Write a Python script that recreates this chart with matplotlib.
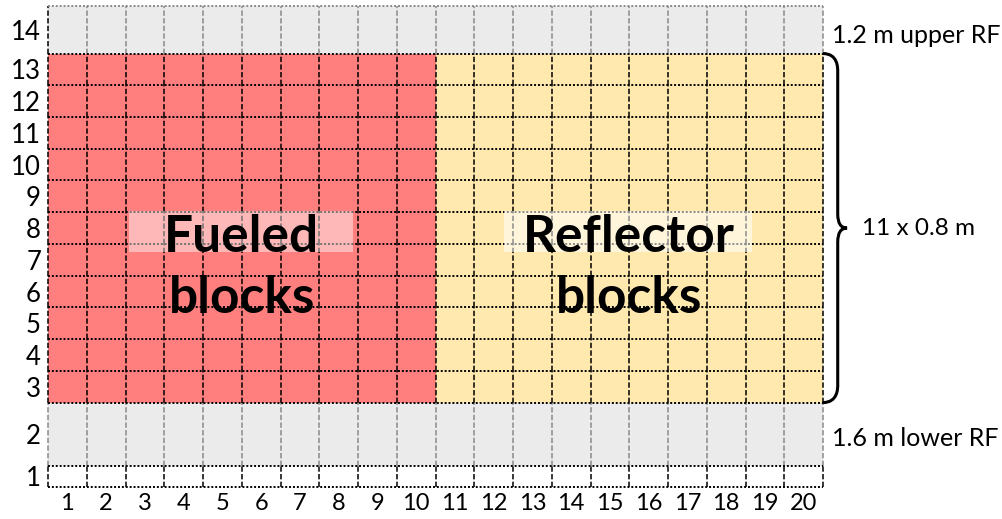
import numpy as np
import matplotlib
matplotlib.use('Agg')
import matplotlib.pyplot as plt
from matplotlib.path import Path
from matplotlib.patches import PathPatch, Rectangle

plt.rcParams['font.family'] = ['Lato', 'DejaVu Sans']

# grid definition
columns = list(range(1, 21))
row_labels = list(range(1, 15))
row_heights = [0.53, 1.6] + [0.8] * 11 + [1.2]   # metres
n_fuel_cols = 10
row_kind = ['blank', 'rf'] + ['core'] * 11 + ['rf']

fuel_color = '#FF7F7F'
refl_color = '#FFE9AF'
rf_color = '#EBEBEB'

side_notes = ['1.2 m upper RF', '11 x 0.8 m', '1.6 m lower RF']

bottoms = np.concatenate([[0], np.cumsum(row_heights)[:-1]])
tops = bottoms + np.array(row_heights)
total_h = tops[-1]

fig = plt.figure(figsize=(10.02, 5.19), dpi=100)
ax = fig.add_axes([48 / 1002, 32 / 519, 775 / 1002, 481 / 519])
ax.set_xlim(0, len(columns))
ax.set_ylim(0, total_h)

xc = np.array(columns) - 0.5
for b, h, kind in zip(bottoms, row_heights, row_kind):
    if kind == 'core':
        cols = [fuel_color if c <= n_fuel_cols else refl_color for c in columns]
    elif kind == 'rf':
        cols = [rf_color] * len(columns)
    else:
        cols = ['white'] * len(columns)
    ax.bar(xc, h, width=1.0, bottom=b, color=cols, linewidth=0, zorder=1)

# vertical dashed lines
dash = (0, (3.5, 1.5))
for b, t, kind in zip(bottoms, tops, row_kind):
    c = '#8A8A8A' if kind == 'rf' else 'black'
    for x in range(0, len(columns) + 1):
        if kind == 'rf' and x == 0 and b > 5:
            c2 = 'black'
        else:
            c2 = c
        ax.plot([x, x], [b, t], color=c2, lw=1.1, ls=dash, zorder=2,
                clip_on=False)

# horizontal dotted lines
dot = (0, (1, 1))
for y in list(bottoms) + [total_h]:
    c = '#8A8A8A' if y == total_h else 'black'
    ax.plot([0, len(columns)], [y, y], color=c, lw=1.4, ls=dot, zorder=2,
            clip_on=False)

# translucent label boxes
ax.add_patch(Rectangle((2.09, 5.93), 5.78, 1.03, facecolor='white',
                       alpha=0.45, linewidth=0, zorder=3))
ax.add_patch(Rectangle((11.77, 5.93), 6.40, 1.03, facecolor='white',
                       alpha=0.55, linewidth=0, zorder=3))

big = dict(fontsize=37, fontweight='bold', ha='center', va='center', zorder=4)
ax.text(5.0, 6.3, 'Fueled', **big)
ax.text(5.0, 4.76, 'blocks', **big)
ax.text(15.0, 6.3, 'Reflector', **big)
ax.text(15.0, 4.76, 'blocks', **big)

# brace for the 11 core rows
y0, y1 = tops[1], tops[12]
ym = (y0 + y1) / 2
xr = len(columns)
dx1, dx2 = 0.38, 0.62
verts = [(xr, y1), (xr + dx1, y1), (xr + dx1, y1 - 0.35), (xr + dx1, y1 - 0.45),
         (xr + dx1, ym + 0.35),
         (xr + dx1, ym), (xr + dx2, ym),
         (xr + dx1, ym), (xr + dx1, ym - 0.35),
         (xr + dx1, y0 + 0.45),
         (xr + dx1, y0 + 0.35), (xr + dx1, y0), (xr, y0)]
codes = [Path.MOVETO, Path.CURVE4, Path.CURVE4, Path.CURVE4,
         Path.LINETO,
         Path.CURVE3, Path.CURVE3,
         Path.CURVE3, Path.CURVE3,
         Path.LINETO,
         Path.CURVE4, Path.CURVE4, Path.CURVE4]
ax.add_patch(PathPatch(Path(verts, codes), facecolor='none', edgecolor='black',
                       lw=2.2, clip_on=False, zorder=5))

ax.text(xr + 0.23, (bottoms[13] + tops[13]) / 2 - 0.15, side_notes[0],
        fontsize=18, va='center', ha='left')
ax.text(xr + 1.0, ym, side_notes[1], fontsize=17.5, va='center', ha='left')
ax.text(xr + 0.23, (bottoms[1] + tops[1]) / 2 - 0.1, side_notes[2],
        fontsize=18, va='center', ha='left')

ax.set_xticks(xc)
ax.set_xticklabels([str(c) for c in columns], fontsize=17)
ax.set_yticks((bottoms + tops) / 2)
ax.set_yticklabels([str(r) for r in row_labels], fontsize=18.5)
ax.tick_params(length=0)
ax.tick_params(axis='y', pad=5)
ax.tick_params(axis='x', pad=4)
for s in ax.spines.values():
    s.set_visible(False)

fig.savefig('out.png', dpi=100)
